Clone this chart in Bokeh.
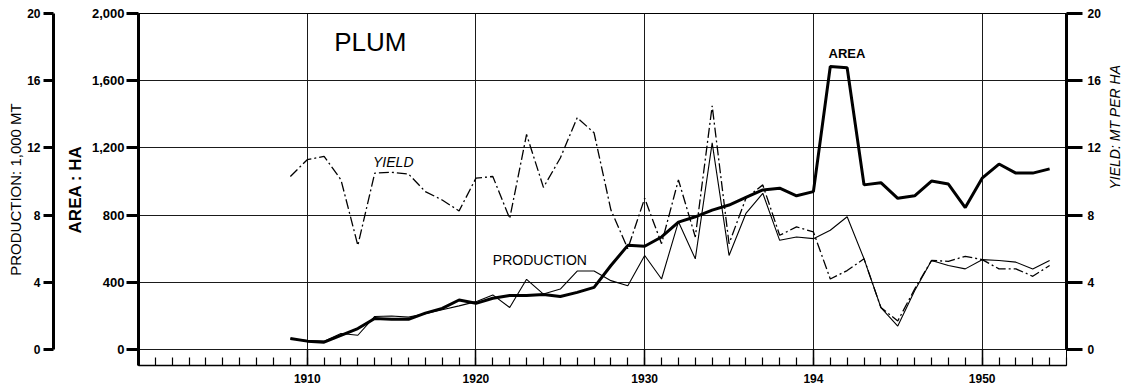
import math
from bokeh.plotting import figure
from bokeh.models import Range1d, LinearAxis, FixedTicker, NumeralTickFormatter, Label
from bokeh.embed import file_html
from bokeh.resources import INLINE

years = list(range(1909, 1955))
area_ha = [66, 50, 44, 84, 125, 185, 180, 180, 217, 245,
           295, 275, 305, 322, 322, 328, 316, 340, 370, 500,
           620, 615, 670, 758, 790, 830, 860, 905, 950, 960,
           915, 940, 1685, 1677, 980, 993, 900, 915, 1003, 985,
           845, 1020, 1104, 1050, 1050, 1075]
production_kmt = [0.64, 0.54, 0.5, 0.95, 0.85, 1.97, 2.0, 1.93, 2.13, 2.37,
                  2.6, 2.85, 3.25, 2.5, 4.18, 3.3, 3.6, 4.67, 4.67, 4.1,
                  3.8, 5.6, 4.2, 7.6, 5.4, 12.3, 5.6, 8.1, 9.3, 6.5,
                  6.7, 6.6, 7.1, 7.9, 5.4, 2.5, 1.4, 3.5, 5.3, 5.0,
                  4.8, 5.35, 5.3, 5.2, 4.8, 5.3]
yield_mt_ha = [10.3, 11.3, 11.5, 10.1, 6.2, 10.5, 10.55, 10.45, 9.4, 8.9,
               8.25, 10.2, 10.3, 7.8, 12.8, 9.65, 11.4, 13.8, 12.9, 8.3,
               6.0, 9.0, 6.3, 10.1, 6.7, 14.5, 6.3, 9.0, 9.8, 6.8,
               7.3, 7.0, 4.2, 4.7, 5.4, 2.5, 1.7, 3.6, 5.3, 5.25,
               5.55, 5.35, 4.8, 4.8, 4.36, 5.0]

area_ticks = [0, 400, 800, 1200, 1600, 2000]
small_ticks = [0, 4, 8, 12, 16, 20]
year_ticks = [1910, 1920, 1930, 1940, 1950]
year_labels = {1910: "1910", 1920: "1920", 1930: "1930", 1940: "194", 1950: "1950"}

FONT = "Liberation Sans"
INK = "black"

p = figure(frame_width=928, frame_height=352,
           x_range=Range1d(1900, 1955), y_range=Range1d(-95, 2000),
           output_backend="svg", toolbar_location=None,
           min_border_top=13, min_border_bottom=0, min_border_left=138, min_border_right=64)
p.extra_y_ranges = {"prod": Range1d(-0.95, 20), "yield": Range1d(-0.95, 20)}
p.outline_line_color = INK
p.outline_line_width = 1
p.background_fill_color = "white"
p.border_fill_color = "white"

# grids
p.ygrid.ticker = FixedTicker(ticks=area_ticks)
p.xgrid.ticker = FixedTicker(ticks=year_ticks)
for g in (p.ygrid[0], p.xgrid[0]):
    g.grid_line_color = "#1a1a1a"
    g.grid_line_width = 1


def style_axis(ax, label_size, width=3):
    ax.axis_line_color = INK
    ax.axis_line_width = width
    ax.major_tick_line_color = INK
    ax.major_tick_line_width = width
    ax.minor_tick_line_color = INK
    ax.minor_tick_line_width = 1.2
    ax.major_label_text_color = INK
    ax.axis_label_text_color = INK
    ax.major_label_text_font = FONT
    ax.major_label_text_font_style = "bold"
    ax.major_label_text_font_size = label_size
    ax.axis_label_text_font = FONT


# x axis
xa = p.xaxis[0]
style_axis(xa, "12px", width=1.5)
xa.ticker = FixedTicker(ticks=year_ticks, minor_ticks=list(range(1900, 1956)))
xa.major_label_overrides = year_labels
xa.major_tick_in = 16
xa.major_tick_out = 0
xa.minor_tick_in = 8
xa.minor_tick_out = 0
xa.major_label_standoff = 8

# area axis (left, nearest frame)
ya = p.yaxis[0]
style_axis(ya, "13px")
ya.ticker = FixedTicker(ticks=area_ticks)
ya.formatter = NumeralTickFormatter(format="0,0")
ya.major_tick_out = 12
ya.major_tick_in = 0
ya.minor_tick_out = 0
ya.minor_tick_in = 0
ya.major_label_standoff = 2
ya.axis_label = "AREA : HA"
ya.axis_label_text_font_style = "bold"
ya.axis_label_text_font_size = "17px"
ya.axis_label_standoff = 4

# spacer axis (blank gap between the two left axes)
spacer = LinearAxis(y_range_name="prod", ticker=FixedTicker(ticks=[]),
                    axis_line_color=None, major_tick_line_color=None,
                    minor_tick_line_color=None, major_tick_out=0, major_tick_in=0,
                    minor_tick_out=0, minor_tick_in=0, major_label_standoff=0,
                    axis_label="I", axis_label_text_font_size="5px",
                    axis_label_text_alpha=0, axis_label_standoff=0)
p.add_layout(spacer, "left")

# production axis
pa = LinearAxis(y_range_name="prod", bounds=(0, 20), ticker=FixedTicker(ticks=small_ticks))
style_axis(pa, "12px")
pa.major_tick_out = 10
pa.major_tick_in = 0
pa.minor_tick_out = 0
pa.minor_tick_in = 0
pa.major_label_standoff = 3
pa.axis_label = "PRODUCTION: 1,000 MT"
pa.axis_label_text_font_style = "normal"
pa.axis_label_text_font_size = "15px"
pa.axis_label_standoff = 0
p.add_layout(pa, "left")

# yield axis (right)
ra = LinearAxis(y_range_name="yield", bounds=(0, 20), ticker=FixedTicker(ticks=small_ticks))
style_axis(ra, "12px")
ra.major_tick_out = 16
ra.major_tick_in = 0
ra.minor_tick_out = 0
ra.minor_tick_in = 0
ra.major_label_standoff = 5
ra.axis_label = "YIELD:  MT  PER  HA"
ra.axis_label_text_font_style = "italic"
ra.axis_label_text_font_size = "14px"
ra.axis_label_standoff = 11
if "axis_label_orientation" in ra.properties():
    ra.axis_label_orientation = math.pi / 2
p.add_layout(ra, "right")

# series
p.line(years, area_ha, line_width=3, line_color=INK)
p.line(years, production_kmt, y_range_name="prod", line_width=1.1, line_color=INK)
p.line(years, yield_mt_ha, y_range_name="yield", line_width=1.3, line_color=INK,
       line_dash="10 3 2 3")

# annotations
p.add_layout(Label(x=1911.6, y=1830, text="PLUM", text_font=FONT, text_font_size="26px",
                   text_baseline="middle", text_color=INK))
p.add_layout(Label(x=1940.9, y=1760, text="AREA", text_font=FONT, text_font_style="bold",
                   text_font_size="13px", text_baseline="middle", text_color=INK))
p.add_layout(Label(x=1913.9, y=1115, text="YIELD", text_font=FONT, text_font_style="italic",
                   text_font_size="14px", text_baseline="middle", text_color=INK))
p.add_layout(Label(x=1921.0, y=530, text="PRODUCTION", text_font=FONT,
                   text_font_size="14px", text_baseline="middle", text_color=INK))

open("out.html", "w").write(file_html(p, INLINE))
